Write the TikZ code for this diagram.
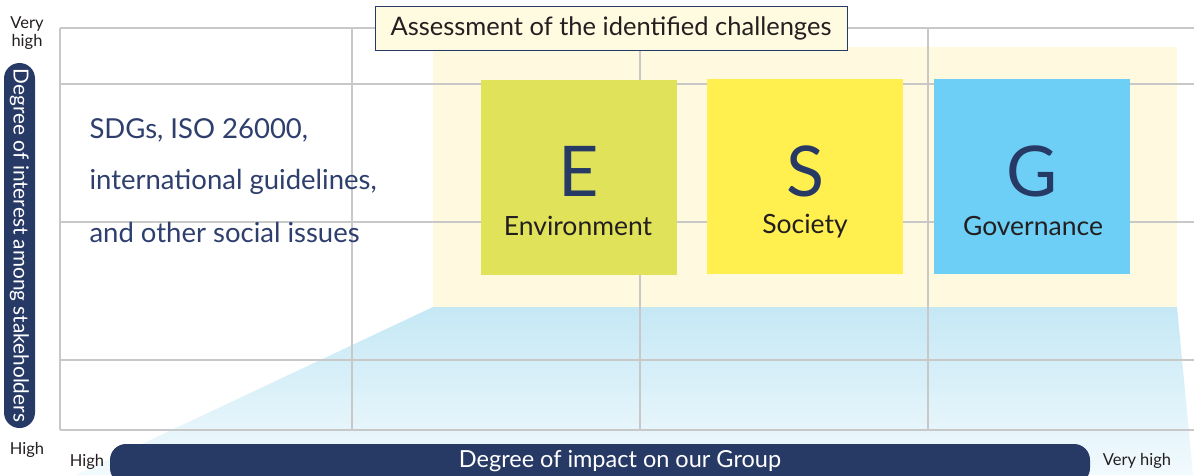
\documentclass[tikz,border=0pt]{standalone}
\usepackage{fontspec}
\setmainfont{Lato}
\definecolor{navy}{HTML}{273A66}
\definecolor{navytext}{HTML}{2E3F6E}
\definecolor{ink}{HTML}{231F20}
\definecolor{gridc}{HTML}{C8C8C8}
\definecolor{band}{HTML}{FFFADF}
\definecolor{titlefill}{HTML}{FFFBE0}
\definecolor{ecol}{HTML}{E0E35A}
\definecolor{scol}{HTML}{FFF04F}
\definecolor{gcol}{HTML}{6DCFF6}
\definecolor{bluetop}{HTML}{C5E8F5}
\definecolor{bluebot}{HTML}{F2FAFD}
\tikzset{
  gridline/.style={draw=gridc, line width=1.3pt},
  esgbox/.style={minimum width=196pt, minimum height=195pt, inner sep=0pt, draw=none},
  bigletter/.style={text=navy, font=\fontsize{70}{70}\selectfont},
  boxlabel/.style={text=ink, font=\fontsize{26.5}{26.5}\selectfont},
  axislabel/.style={text=ink, font=\fontsize{16.5}{18}\selectfont, align=center},
  pilltext/.style={text=white, font=\fontsize{23.5}{23.5}\selectfont},
  vpilltext/.style={text=white, font=\fontsize{20.8}{20.8}\selectfont},
  lefttext/.style={text=navytext, font=\fontsize{27.5}{27.5}\selectfont, anchor=west}
}
\begin{document}
\begin{tikzpicture}[x=1pt,y=-1pt]
\useasboundingbox (0,0) rectangle (1194,475);
\clip (0,0) rectangle (1194,475);
\fill[white] (0,0) rectangle (1194,475);
% yellow band
\fill[band] (433,47) rectangle (1177,307);
% blue trapezoid
\shade[top color=bluetop, bottom color=bluebot] (433,307) -- (1177,307) -- (1193,475) -- (76,475) -- cycle;
% grid
\foreach \y in {28,84,222,360,430} \draw[gridline] (60,\y) -- (1194,\y);
\foreach \x in {60,352,640,928} \draw[gridline] (\x,28) -- (\x,430);
% ESG boxes
\node[esgbox, fill=ecol] (E) at (579,177.5) {};
\node[esgbox, fill=scol] (S) at (805,176.5) {};
\node[esgbox, fill=gcol] (G) at (1032,176.5) {};
\node[bigletter] (Eletter) at (579,171) {E};
\node[bigletter] (Sletter) at (805,171) {S};
\node[bigletter] (Gletter) at (1032,171) {G};
\node[boxlabel] (Elab) at (578,226) {Environment};
\node[boxlabel] (Slab) at (805,226) {Society};
\node[boxlabel] (Glab) at (1033,226) {Governance};
% title
\node[draw=navy, line width=0.8pt, fill=titlefill, minimum width=472pt, minimum height=44pt, inner sep=0pt,
      text=ink, font=\fontsize{25.5}{25.5}\selectfont] (title) at (611,28) {Assessment of the identified challenges};
% left text
\node[lefttext] (l1) at (86,130) {SDGs, ISO 26000,};
\node[lefttext] (l2) at (86,182) {international guidelines,};
\node[lefttext] (l3) at (86,232) {and other social issues};
% vertical pill
\node[fill=navy, rounded corners=15.5pt, minimum width=31pt, minimum height=365pt, inner sep=0pt] (vpill) at (19.5,245.5) {};
\node[vpilltext, rotate=-90] (vlab) at (19.5,245.5) {Degree of interest among stakeholders};
% horizontal pill
\node[fill=navy, rounded corners=16pt, minimum width=980pt, minimum height=40pt, inner sep=0pt] (hpill) at (600,464) {};
\node[pilltext] (hlab) at (620,461) {Degree of impact on our Group};
% axis labels
\node[axislabel] (vhigh) at (27,33) {Very\\high};
\node[axislabel] (yhigh) at (27,450) {High};
\node[axislabel] (xhigh) at (87,462) {High};
\node[axislabel] (xvhigh) at (1137,461) {Very high};
\end{tikzpicture}
\end{document}
